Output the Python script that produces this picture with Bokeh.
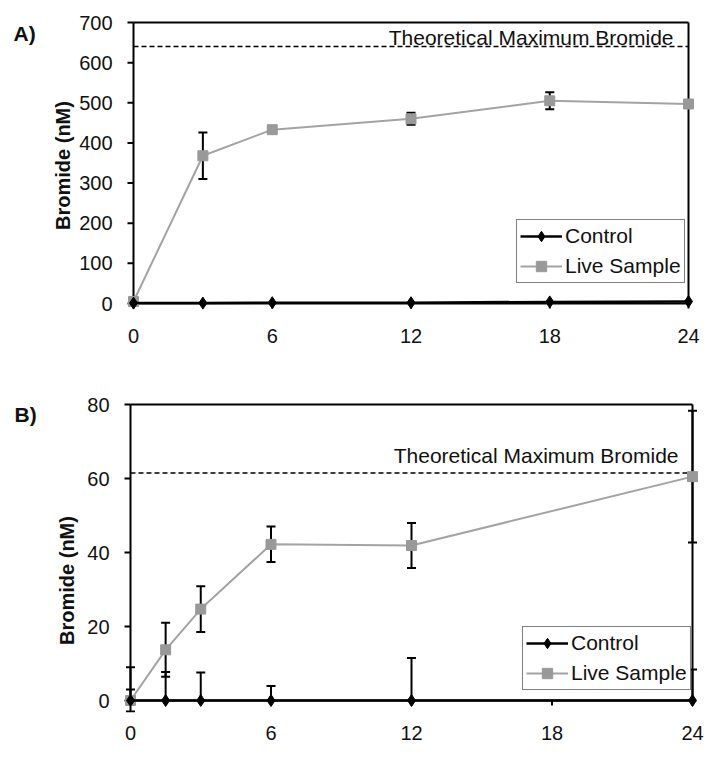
from bokeh.plotting import figure
from bokeh.models import (Label, Whisker, TeeHead, ColumnDataSource,
                          FixedTicker, Legend, LegendItem)
from bokeh.core.properties import value
from bokeh.layouts import column
from bokeh.embed import file_html
from bokeh.resources import INLINE

# ---------------- data ----------------
hours_a = [0, 3, 6, 12, 18, 24]
control_a = [1, 1, 2, 2, 4, 5]
live_a = [5, 368, 433, 460, 505, 497]
live_a_err = [0, 58, 5, 15, 21, 8]
theoretical_a = 640

hours_b = [0, 1.5, 3, 6, 12, 24]
control_b = [0, 0, 0, 0, 0, 0]
control_b_err = [9, 7.7, 7.6, 3.9, 11.5, 8.4]
live_b = [0, 13.7, 24.7, 42.2, 41.9, 60.5]
live_b_err = [3, 7.3, 6.2, 4.8, 6.1, 17.8]
theoretical_b = 61.5

x_ticks = [0, 6, 12, 18, 24]
y_ticks_a = [0, 100, 200, 300, 400, 500, 600, 700]
y_ticks_b = [0, 20, 40, 60, 80]

FONT = "Liberation Sans"
TXT = "#111111"
LIVE_LINE = "#a3a3a3"
LIVE_MARK = "#999999"
PAD_T, PAD_B = 12, 12   # frame space beyond the axis box, px


def panel(tag, hours, control, control_err, live, live_err, theo, y_ticks,
          x0px, x24px, ytop_px, y0px, fig_top, mb_bottom, legend_loc,
          tag_xy, ylabel_xy, theo_dx, theo_dy):
    """Pixel anchors (page coords) place the axes; frame starts at x=0 of figure."""
    y_max = y_ticks[-1]
    x_max = x_ticks[-1]
    mx, ky = 6, 5                                   # tick lengths in px
    sx = (x24px - x0px) / float(x_max)              # px per hour
    sy = (y0px - ytop_px) / float(y_max)            # px per unit
    frame_top = ytop_px - PAD_T
    frame_bottom = y0px + PAD_B
    frame_w = int(round(x24px + mx + 2))
    frame_h = int(round(frame_bottom - frame_top))
    p = figure(frame_width=frame_w, frame_height=frame_h,
               x_range=(-x0px / sx, x_max + (mx + 2) / sx),
               y_range=(-PAD_B / sy, y_max + PAD_T / sy),
               output_backend="svg", toolbar_location=None,
               min_border_left=0, min_border_right=6,
               min_border_top=int(round(frame_top - fig_top)),
               min_border_bottom=mb_bottom)
    p.outline_line_color = None
    p.grid.visible = False
    p.background_fill_color = "white"
    p.border_fill_color = "white"
    p.yaxis.visible = False

    # x axis: labels from Bokeh, tick marks drawn below the zero line
    p.xaxis.ticker = FixedTicker(ticks=x_ticks)
    p.xaxis.axis_line_color = None
    p.xaxis.major_tick_line_color = None
    p.xaxis.minor_tick_line_color = None
    p.xaxis.major_tick_in = 0
    p.xaxis.major_tick_out = 0
    p.xaxis.major_label_standoff = 13
    p.xaxis.major_label_text_font = FONT
    p.xaxis.major_label_text_font_size = "20px"
    p.xaxis.major_label_text_color = TXT
    nx = len(x_ticks)
    p.segment(x0=x_ticks, x1=x_ticks, y0=[y_ticks[0]] * nx, y1=[-ky / sy] * nx,
              line_color="black", line_width=2)

    # y axis drawn by hand so that the panel tag can sit beside it
    n = len(y_ticks)
    p.segment(x0=[-mx / sx] * n, x1=[x_ticks[0]] * n, y0=y_ticks, y1=y_ticks,
              line_color="black", line_width=2)
    p.text(x=[x_ticks[0]] * n, y=y_ticks, text=[str(t) for t in y_ticks],
           x_offset=-21, text_align="right", text_baseline="middle",
           text_font=value(FONT), text_font_size=value("20px"), text_color=TXT)
    p.add_layout(Label(x=ylabel_xy[0], y=ylabel_xy[1], x_units="screen",
                       y_units="screen", text="Bromide (nM)", angle=90,
                       angle_units="deg", text_align="center",
                       text_baseline="middle", text_font=FONT,
                       text_font_style="bold", text_font_size="20px",
                       text_color=TXT))
    p.add_layout(Label(x=tag_xy[0], y=tag_xy[1], x_units="screen", y_units="screen",
                       text=tag, text_font=FONT, text_font_style="bold",
                       text_font_size="21px", text_baseline="alphabetic",
                       text_color=TXT))

    # box lines
    for xv in (x_ticks[0], x_ticks[-1]):
        p.line([xv, xv], [y_ticks[0], y_ticks[-1]], line_color="black", line_width=2)
    for yv in (y_ticks[0], y_ticks[-1]):
        p.line([x_ticks[0], x_ticks[-1]], [yv, yv], line_color="black", line_width=2)

    # theoretical maximum
    p.line([x_ticks[0], x_ticks[-1]], [theo, theo], line_color="black",
           line_width=1.5, line_dash="5 3")
    p.add_layout(Label(x=x_ticks[-1], y=theo, x_offset=theo_dx, y_offset=theo_dy,
                       text="Theoretical Maximum Bromide", text_align="right",
                       text_baseline="alphabetic", text_font=FONT,
                       text_font_size="21px", text_color=TXT))

    # error bars
    if control_err is not None:
        csrc = ColumnDataSource(dict(x=hours, lower=control,
                                     upper=[v + e for v, e in zip(control, control_err)]))
        p.add_layout(Whisker(source=csrc, base="x", upper="upper", lower="lower",
                             line_color="black", line_width=2, level="underlay",
                             upper_head=TeeHead(size=9, line_color="black", line_width=2),
                             lower_head=None))
    lsrc = ColumnDataSource(dict(x=hours,
                                 lower=[v - e for v, e in zip(live, live_err)],
                                 upper=[v + e for v, e in zip(live, live_err)]))
    p.add_layout(Whisker(source=lsrc, base="x", upper="upper", lower="lower",
                         line_color="black", line_width=2, level="underlay",
                         upper_head=TeeHead(size=9, line_color="black", line_width=2),
                         lower_head=TeeHead(size=9, line_color="black", line_width=2)))

    # series
    ll = p.line(hours, live, line_color=LIVE_LINE, line_width=2)
    ls = p.scatter(hours, live, marker="square", size=10, fill_color=LIVE_MARK,
                   line_color=LIVE_MARK)
    cl = p.line(hours, control, line_color="black", line_width=2.5)
    cs = p.scatter(hours, control, marker="diamond", size=12, fill_color="black",
                   line_color="black")

    legend = Legend(items=[LegendItem(label="Control", renderers=[cl, cs]),
                           LegendItem(label="Live Sample", renderers=[ll, ls])],
                    location=legend_loc, orientation="vertical")
    legend.label_text_font = FONT
    legend.label_text_font_size = "21px"
    legend.label_text_color = TXT
    legend.glyph_width = 42
    legend.glyph_height = 26
    legend.label_height = 26
    legend.label_standoff = 3
    legend.spacing = 4
    legend.padding = 3
    legend.margin = 0
    legend.border_line_color = "black"
    legend.border_line_width = 1
    legend.background_fill_color = "white"
    legend.background_fill_alpha = 1
    p.add_layout(legend)
    return p


# panel A: figure starts at page y = 0; frame bottom sits PAD_B below y=0
a_y0, a_top, mb = 303, 22, 40
pa = panel("A)", hours_a, control_a, None, live_a, live_a_err, theoretical_a,
           y_ticks_a, x0px=133, x24px=688, ytop_px=a_top, y0px=a_y0, fig_top=0,
           mb_bottom=mb, legend_loc=(516, 20 + PAD_B), tag_xy=(13, a_y0 + PAD_B - 33),
           ylabel_xy=(62, a_y0 + PAD_B - 165), theo_dx=-15, theo_dy=9)
a_height = (a_y0 + PAD_B) + mb
b_y0 = 700
pb = panel("B)", hours_b, control_b, control_b_err, live_b, live_b_err, theoretical_b,
           y_ticks_b, x0px=130, x24px=692, ytop_px=404, y0px=b_y0, fig_top=a_height,
           mb_bottom=mb, legend_loc=(522, 10 + PAD_B), tag_xy=(14, b_y0 + PAD_B - 414),
           ylabel_xy=(66, b_y0 + PAD_B - 580), theo_dx=-14, theo_dy=17)

layout = column(pa, pb, spacing=0)
open("out.html", "w").write(file_html(layout, INLINE))
